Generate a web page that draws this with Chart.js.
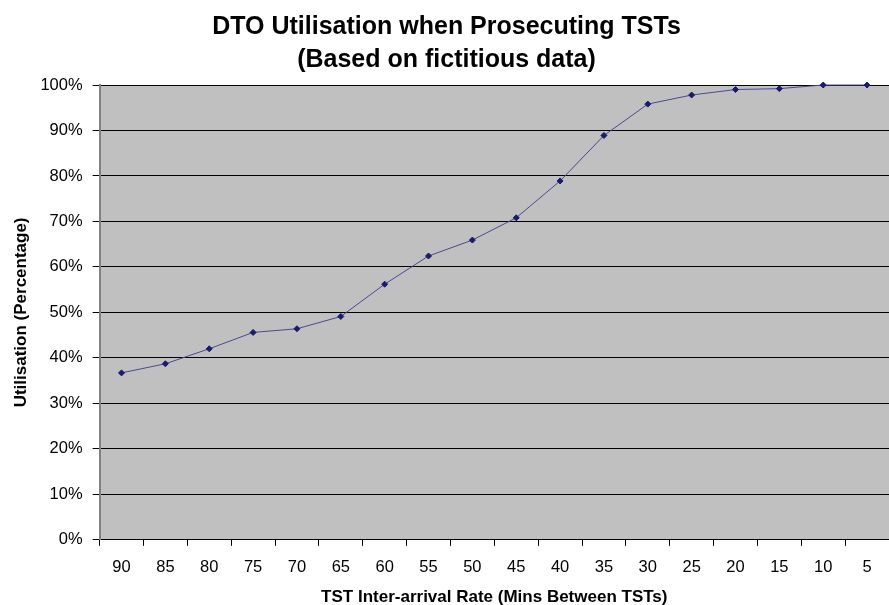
<!DOCTYPE html>
<html>
<head>
<meta charset="utf-8">
<script src="https://cdn.jsdelivr.net/npm/chart.js@4.4.1/dist/chart.umd.min.js"></script>
<style>
  html, body { margin: 0; padding: 0; background: #fff; overflow: hidden; }
  #wrap { width: 889px; height: 605px; }
</style>
</head>
<body>
<div id="wrap"><canvas id="dtoChart"></canvas></div>
<script>
var labels = ["90", "85", "80", "75", "70", "65", "60", "55", "50", "45", "40", "35", "30", "25", "20", "15", "10", "5"];
var utilisation = [36.7, 38.7, 42.0, 45.6, 46.4, 49.1, 56.2, 62.4, 65.9, 70.8, 78.9, 88.9, 95.8, 97.8, 99.0, 99.2, 100, 100];

var fontFamily = "'Liberation Sans', Arial, sans-serif";

// grey plot area plus the thin top border
var plotBackground = {
  id: "plotBackground",
  beforeDraw: function (chart) {
    var a = chart.chartArea;
    var c = chart.ctx;
    c.save();
    c.fillStyle = "#c0c0c0";
    c.fillRect(a.left, a.top, a.right - a.left, a.bottom - a.top);
    c.strokeStyle = "#8a8a8a";
    c.lineWidth = 1;
    c.beginPath();
    c.moveTo(a.left, a.top + 0.5);
    c.lineTo(a.right, a.top + 0.5);
    c.stroke();
    c.restore();
  }
};

var ctx = document.getElementById("dtoChart").getContext("2d");
var dtoChart = new Chart(ctx, {
  type: "line",
  plugins: [plotBackground],
  data: {
    labels: labels,
    datasets: [
      {
        label: "Utilisation",
        data: utilisation,
        borderColor: "#4a4a90",
        borderWidth: 1,
        backgroundColor: "#1a1a6e",
        pointBackgroundColor: "#1a1a6e",
        pointBorderColor: "#1a1a6e",
        pointStyle: "rectRot",
        pointRadius: 3,
        tension: 0,
        fill: false,
        clip: false,
      },
    ],
  },
  options: {
    responsive: true,
    maintainAspectRatio: false,
    animation: false,
    layout: { autoPadding: false, padding: { left: 4, right: 0, top: 0, bottom: -3 } },
    plugins: {
      legend: { display: false },
      tooltip: { enabled: false },
      title: {
        display: true,
        text: ["DTO Utilisation when Prosecuting TSTs", "(Based on fictitious data)"],
        color: "#000",
        font: { family: fontFamily, size: 25, weight: "bold", lineHeight: 1.32 },
        padding: { top: 11, bottom: 8 },
      },
    },
    scales: {
      x: {
        offset: true,
        grid: {
          offset: true,
          drawOnChartArea: false,
          drawTicks: true,
          tickLength: 6,
          color: "#000",
        },
        border: { color: "#000" },
        ticks: {
          color: "#000",
          padding: 12,
          maxRotation: 0,
          font: { family: fontFamily, size: 16.5 },
        },
        title: {
          display: true,
          text: "TST Inter-arrival Rate (Mins Between TSTs)",
          color: "#000",
          font: { family: fontFamily, size: 17, weight: "bold" },
          padding: { top: -2, bottom: 0 },
        },
      },
      y: {
        min: 0,
        max: 100,
        grid: {
          color: "#000",
          tickLength: 7,
        },
        border: { color: "#808080", width: 2 },
        ticks: {
          stepSize: 10,
          color: "#000",
          padding: 10,
          font: { family: fontFamily, size: 16.5 },
          callback: function (v) { return v + "%"; },
        },
        title: {
          display: true,
          text: "Utilisation (Percentage)",
          color: "#000",
          font: { family: fontFamily, size: 17, weight: "bold" },
          padding: { top: 7, bottom: -1 },
        },
      },
    },
  },
});
</script>
</body>
</html>
